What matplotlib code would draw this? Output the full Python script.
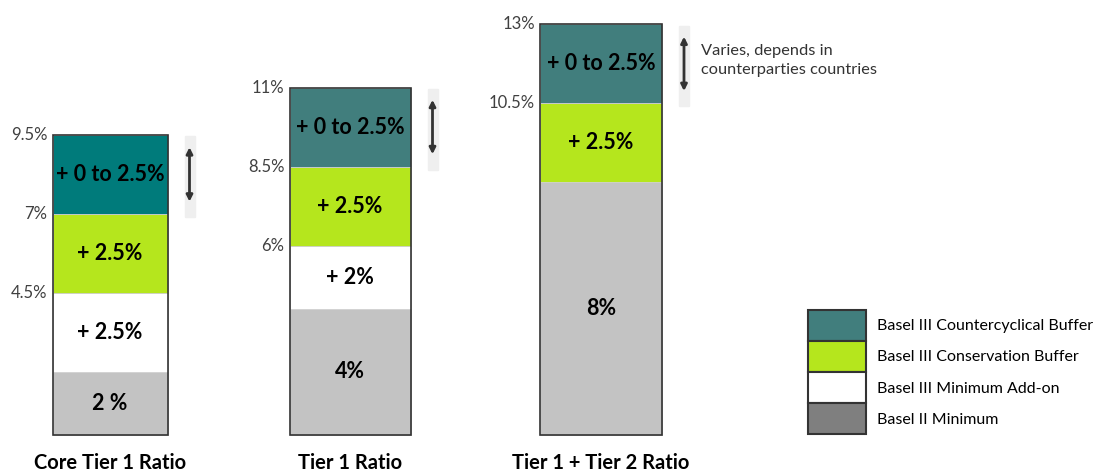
import matplotlib
matplotlib.use('Agg')
import matplotlib.pyplot as plt
from matplotlib.patches import Patch, Rectangle

plt.rcParams['font.family'] = ['Lato', 'DejaVu Sans']

# capital requirements, % of risk weighted assets
ratios = ['Core Tier 1 Ratio', 'Tier 1 Ratio', 'Tier 1 + Tier 2 Ratio']
basel2_minimum = [2, 4, 8]
minimum_addon = [2.5, 2, 0]
conservation_buffer = [2.5, 2.5, 2.5]
countercyclical_buffer = [2.5, 2.5, 2.5]

segment_texts = [['2 %', '+ 2.5%', '+ 2.5%', '+ 0 to 2.5%'],
                 ['4%', '+ 2%', '+ 2.5%', '+ 0 to 2.5%'],
                 ['8%', '', '+ 2.5%', '+ 0 to 2.5%']]

legend_names = ['Basel III Countercyclical Buffer', 'Basel III Conservation Buffer',
                'Basel III Minimum Add-on', 'Basel II Minimum']
note = 'Varies, depends in\ncounterparties countries'

# layout (x in pixel-like units of the 1100 px wide canvas)
bar_centers = [110, 350, 601]
bar_widths = [115, 121, 122]
seg_colors = ['#c3c3c3', '#ffffff', '#b5e61d', '#417e7d']
first_teal = '#007b7b'
edge = '#333333'

fig = plt.figure(figsize=(11, 4.73), dpi=100)
ax = fig.add_axes([0, 0, 1, 1])
ax.set_xlim(0, 1100)
ax.set_ylim(-1.2, 13.77)
ax.axis('off')

for i, name in enumerate(ratios):
    values = [basel2_minimum[i], minimum_addon[i], conservation_buffer[i], countercyclical_buffer[i]]
    x, w = bar_centers[i], bar_widths[i]
    bottom = 0
    for j, v in enumerate(values):
        if v == 0:
            continue
        color = seg_colors[j]
        if j == 3 and i == 0:
            color = first_teal
        ax.bar(x, v, bottom=bottom, width=w, color=color, edgecolor='#d0d0d0', linewidth=0.6)
        ax.text(x, bottom + v / 2, segment_texts[i][j], ha='center', va='center',
                fontsize=15.5, fontweight='bold', color='black')
        bottom += v
        if j > 0:
            ax.text(x - w / 2 - 5, bottom, '{:g}%'.format(bottom), ha='right', va='center',
                    fontsize=12, color='#404040')
    # outline of the whole stack
    ax.bar(x, bottom, width=w, fill=False, edgecolor=edge, linewidth=1.2)
    ax.text(x, -0.88, name, ha='center', va='center', fontsize=14.5,
            fontweight='bold', color='black')

    # range arrow for the countercyclical buffer
    ax_x = x + w / 2 + 22
    top = bottom
    ax.add_patch(Rectangle((ax_x - 5, top - 2.6), 10, 2.55, color='#efefef', zorder=1))
    ax.annotate('', xy=(ax_x, top - 0.3), xytext=(ax_x, top - 2.2),
                arrowprops=dict(arrowstyle='<|-|>', color=edge, lw=2, mutation_scale=9),
                zorder=2)
    if i == 2:
        ax.text(ax_x + 17, top - 1.15, note, ha='left', va='center', fontsize=11.8,
                color='#333333', linespacing=1.45)

handles = [Patch(facecolor=c, edgecolor=edge, linewidth=1.5)
           for c in ['#417e7d', '#b5e61d', '#ffffff', '#7f7f7f']]
ax.legend(handles, legend_names, loc='upper left', bbox_to_anchor=(0.7345, 0.3446),
          frameon=False, fontsize=11.5, handlelength=3.63, handleheight=2.62,
          labelspacing=0, borderpad=0, borderaxespad=0, handletextpad=0.7)

fig.savefig('out.png', dpi=100)
